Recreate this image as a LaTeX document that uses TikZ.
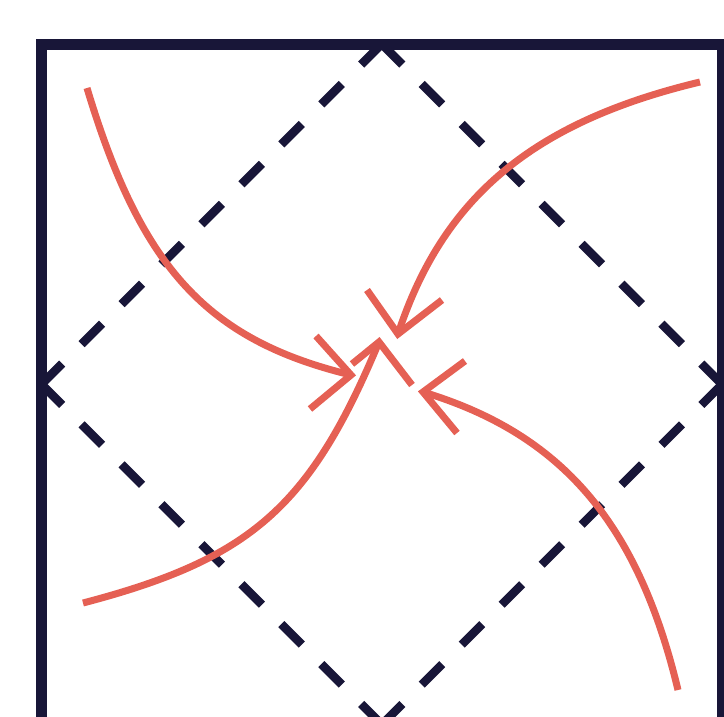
\documentclass[tikz,border=0pt]{standalone}
\definecolor{navy}{RGB}{24,22,56}
\definecolor{coral}{RGB}{229,96,84}
\begin{document}
\begin{tikzpicture}[x=1pt,y=-1pt,
  framestyle/.style={draw=navy,line width=11pt},
  diamondedge/.style={draw=navy,line width=8.5pt,dash pattern=on 29pt off 27.5pt,line cap=butt},
  arc/.style={draw=coral,line width=7pt,line cap=butt},
  head/.style={draw=coral,line width=7pt,line cap=butt,line join=miter}]
\useasboundingbox (0,0) rectangle (724,716);
\clip (0,0) rectangle (724,716);
% vertices of the dashed diamond
\coordinate (T) at (381.75,44);
\coordinate (L) at (41.5,384.25);
\coordinate (R) at (722,384.25);
\coordinate (B) at (381.75,724.5);
% dashed diamond, each edge starting with a dash at a vertex
\draw[diamondedge] (T) -- (L);
\draw[diamondedge] (T) -- (R);
\draw[diamondedge] (B) -- (L);
\draw[diamondedge] (B) -- (R);
% frame
\draw[framestyle] (41.5,44) rectangle (722,724.5);
% arc 1: top-left
\coordinate (a1s) at (87,88);
\coordinate (a1t) at (351,375);
\draw[arc] (a1s) .. controls (141,268) and (207,340) .. (a1t);
\coordinate (a1u) at (316,336);
\coordinate (a1d) at (310,409);
\draw[head] (a1u) -- (a1t) -- (a1d);
% arc 2: top-right
\coordinate (a2s) at (700,82);
\coordinate (a2t) at (398,334);
\draw[arc] (a2s) .. controls (533,122) and (443,197) .. (a2t);
\coordinate (a2l) at (367,290);
\coordinate (a2r) at (442,300);
\draw[head] (a2l) -- (a2t) -- (a2r);
% arc 3: bottom-right
\coordinate (a3s) at (678,690);
\coordinate (a3t) at (423,392);
\draw[arc] (a3s) .. controls (638,523) and (562,434) .. (a3t);
\coordinate (a3u) at (465,361);
\coordinate (a3d) at (457,433);
\draw[head] (a3u) -- (a3t) -- (a3d);
% arc 4: bottom-left
\coordinate (a4s) at (83,603);
\coordinate (a4t) at (379,342);
\draw[arc] (a4s) .. controls (251,559) and (310,507) .. (a4t);
\coordinate (a4l) at (352,364);
\coordinate (a4r) at (412,385);
\draw[head] (a4l) -- (a4t) -- (a4r);
\end{tikzpicture}
\end{document}
